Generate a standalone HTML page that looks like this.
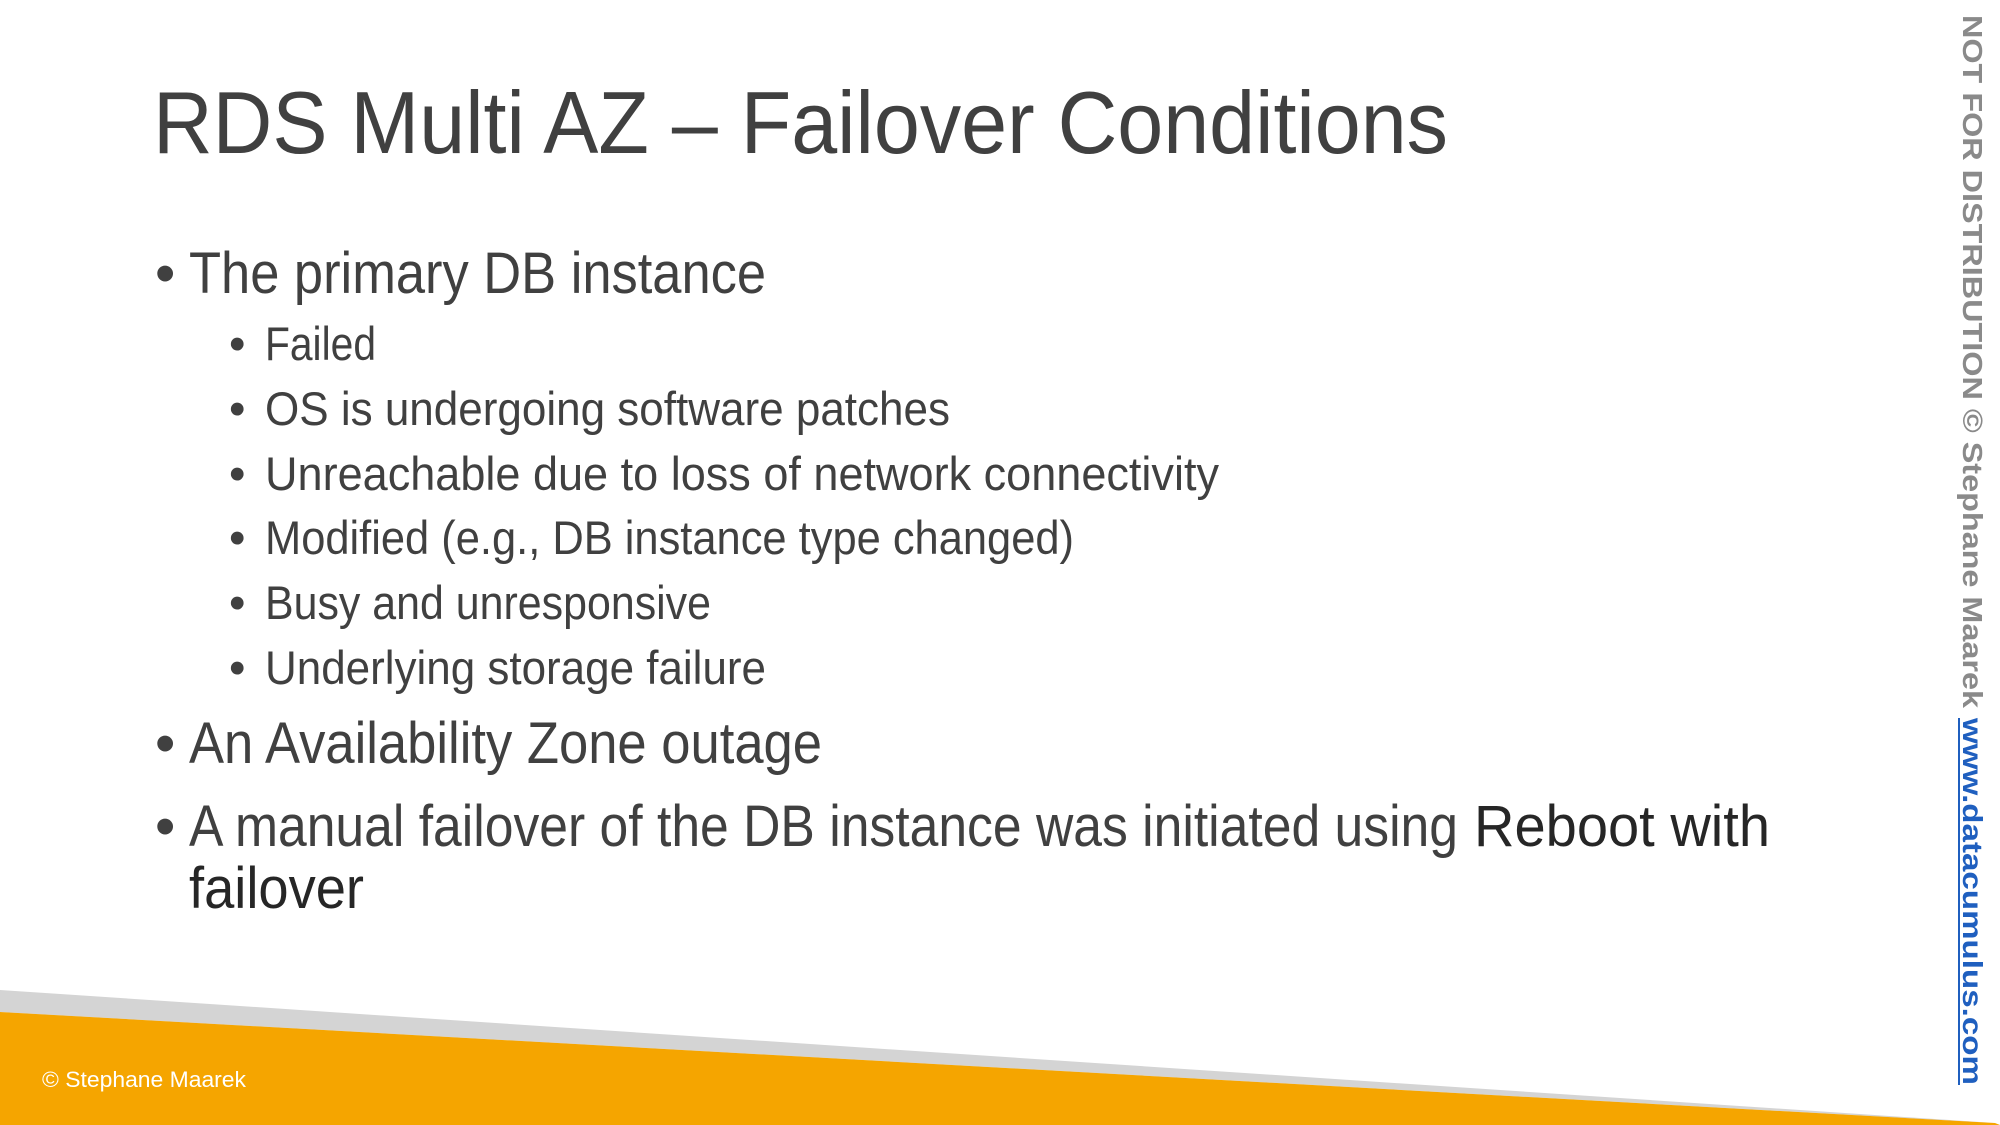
<!DOCTYPE html>
<html><head><meta charset="utf-8"><style>
html,body{margin:0;padding:0;background:#fff;}
svg{display:block;}
text{font-family:"Liberation Sans",sans-serif;}
</style></head><body>
<svg width="2000" height="1125" viewBox="0 0 2000 1125" xmlns="http://www.w3.org/2000/svg">
<rect width="2000" height="1125" fill="#fff"/>
<polygon points="0,990 1995,1123 0,1012" fill="#d4d4d4"/>
<polygon points="0,1012 1995,1123 2000,1125 0,1125" fill="#f5a500"/>
<text x="153" y="153" font-size="88" fill="#404040" textLength="1295" lengthAdjust="spacingAndGlyphs">RDS Multi AZ – Failover Conditions</text>
<g fill="#404040">
<text x="155" y="293" font-size="58">•</text>
<text x="189" y="293" font-size="58" textLength="577" lengthAdjust="spacingAndGlyphs">The primary DB instance</text>
<g font-size="47">
<text x="229" y="360">•</text><text x="265" y="360" textLength="111" lengthAdjust="spacingAndGlyphs">Failed</text>
<text x="229" y="425">•</text><text x="265" y="425" textLength="685" lengthAdjust="spacingAndGlyphs">OS is undergoing software patches</text>
<text x="229" y="490">•</text><text x="265" y="490" textLength="954" lengthAdjust="spacingAndGlyphs">Unreachable due to loss of network connectivity</text>
<text x="229" y="554">•</text><text x="265" y="554" textLength="809" lengthAdjust="spacingAndGlyphs">Modified (e.g., DB instance type changed)</text>
<text x="229" y="619">•</text><text x="265" y="619" textLength="446" lengthAdjust="spacingAndGlyphs">Busy and unresponsive</text>
<text x="229" y="684">•</text><text x="265" y="684" textLength="501" lengthAdjust="spacingAndGlyphs">Underlying storage failure</text>
</g>
<text x="155" y="763" font-size="58">•</text>
<text x="189" y="763" font-size="58" textLength="633" lengthAdjust="spacingAndGlyphs">An Availability Zone outage</text>
<text x="155" y="846" font-size="58">•</text>
<text x="189" y="846" font-size="58" textLength="1269" lengthAdjust="spacingAndGlyphs">A manual failover of the DB instance was initiated using</text>
</g>
<text x="1474" y="846" font-size="58" fill="#262626" textLength="296" lengthAdjust="spacingAndGlyphs">Reboot with</text>
<text x="189" y="908" font-size="58" fill="#262626" textLength="175" lengthAdjust="spacingAndGlyphs">failover</text>
<text x="42" y="1087" font-size="22" fill="#fff" textLength="204" lengthAdjust="spacingAndGlyphs">© Stephane Maarek</text>
<g transform="translate(1963,15) rotate(90)">
<text x="0" y="0" font-size="28" font-weight="bold" fill="#8a8a8a" textLength="693" lengthAdjust="spacingAndGlyphs">NOT FOR DISTRIBUTION © Stephane Maarek</text>
<text x="703" y="0" font-size="28" font-weight="bold" fill="#1f5fbf" textLength="367" lengthAdjust="spacingAndGlyphs">www.datacumulus.com</text>
<rect x="703" y="3" width="367" height="2" fill="#1f5fbf"/>
</g>
</svg>
</body></html>
